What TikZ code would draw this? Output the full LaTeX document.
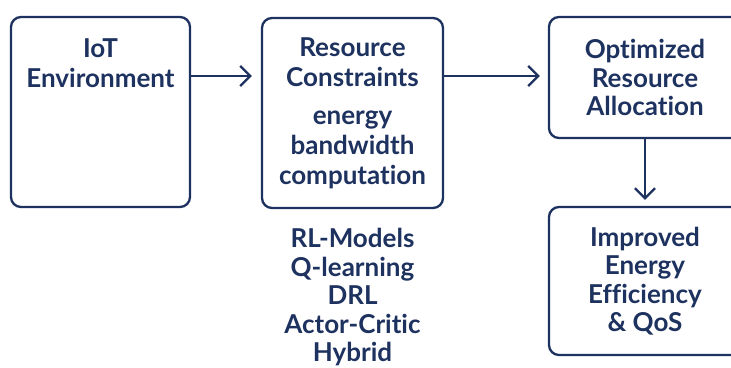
\documentclass[tikz,border=0pt]{standalone}
\usepackage{fontspec}
\setmainfont[Ligatures=NoCommon]{Lato}
\usetikzlibrary{arrows.meta}
\definecolor{navy}{HTML}{1E3260}
\tikzset{
  box/.style={draw=navy, line width=2.3pt, rounded corners=10pt, fill=white, inner sep=0pt},
  txt/.style={text=navy, font=\fontsize{26}{28.5}\selectfont\bfseries, align=center, inner sep=0pt},
  wide/.style={font=\fontsize{26}{30}\selectfont\bfseries},
  flow/.style={draw=navy, line width=2.3pt, -{Straight Barb[length=10pt,width=20pt,line width=2.3pt]}}
}
\begin{document}
\begin{tikzpicture}[x=1pt,y=-1pt]
\clip (0,0) rectangle (731,367);
\fill[white] (0,0) rectangle (731,367);
% boxes
\node[box, minimum width=179pt, minimum height=190pt] (iot) at (100.5,112) {};
\node[box, minimum width=181pt, minimum height=190pt, txt, wide] (res) at (352.5,113)
  {Resource\\Constraints\\[8pt]energy\\bandwidth\\computation};
\node[box, minimum width=192pt, minimum height=121pt, txt] (opt) at (645,77.5)
  {Optimized\\Resource\\Allocation};
\node[box, minimum width=192pt, minimum height=148pt, txt] (imp) at (645,281)
  {Improved\\Energy\\Efficiency\\\& QoS};
% labels
\node[txt, wide, anchor=north] (iotlbl) at (100.5,38.5) {IoT\\Environment};
\node[txt] (rl) at (352.5,297.5) {RL-Models\\Q-learning\\DRL\\Actor-Critic\\Hybrid};
% connectors
\coordinate (a1) at (190,76);
\coordinate (a2) at (443,76);
\draw[flow] (a1) -- ([xshift=-9pt]res.west |- a1);
\draw[flow] (a2) -- ([xshift=-8pt]opt.west |- a2);
\draw[flow] (opt.south) -- ([yshift=6pt]imp.north);
\end{tikzpicture}
\end{document}
